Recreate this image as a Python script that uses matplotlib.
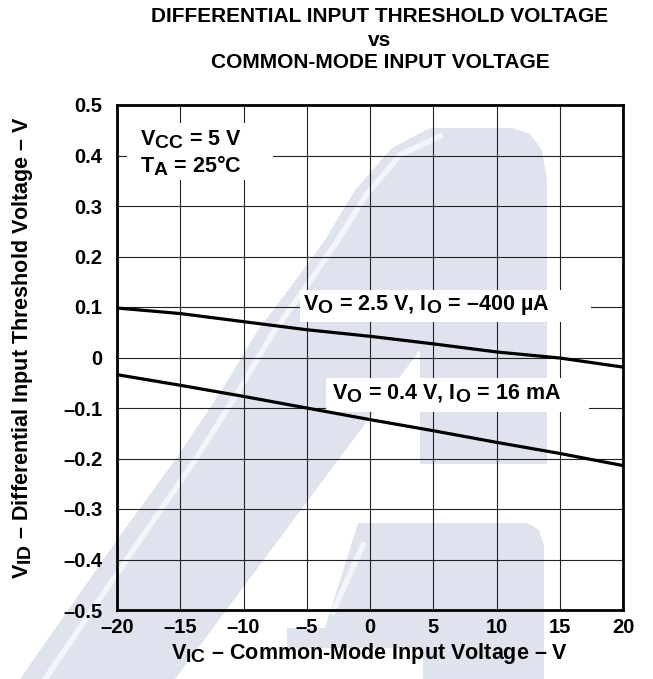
import matplotlib
matplotlib.use("Agg")
import matplotlib.pyplot as plt
import matplotlib._mathtext as mathtext_mod
from matplotlib.patches import Polygon, Rectangle

plt.rcParams['font.family'] = 'Liberation Sans'
plt.rcParams['font.weight'] = 'bold'
plt.rcParams['mathtext.fontset'] = 'custom'
plt.rcParams['mathtext.rm'] = 'Liberation Sans:bold'
plt.rcParams['mathtext.it'] = 'Liberation Sans:bold'
plt.rcParams['mathtext.bf'] = 'Liberation Sans:bold'
# subscripts in the datasheet are almost full size
mathtext_mod.SHRINK_FACTOR = 0.9

# common-mode input voltage (V)
v_ic = [-20, -15, -10, -5, 0, 5, 10, 15, 20]
# differential input threshold voltage (V)
vid_high = [0.098, 0.087, 0.071, 0.055, 0.042, 0.027, 0.011, -0.001, -0.019]
vid_low = [-0.034, -0.055, -0.077, -0.100, -0.123, -0.145, -0.168, -0.190, -0.214]

x_ticks = [-20, -15, -10, -5, 0, 5, 10, 15, 20]
y_ticks = [-0.5, -0.4, -0.3, -0.2, -0.1, 0, 0.1, 0.2, 0.3, 0.4, 0.5]

FS = 14.5
LFS = 15.5
W, H = 653, 679
fig = plt.figure(figsize=(W / 100, H / 100), dpi=100)
ax = fig.add_axes([117 / W, 1 - 610 / H, 506 / W, 505 / H])
ax.patch.set_alpha(0)

# faint logo watermark behind the chart (figure pixel coords)
wm = '#dee3ee'
def px(pts):
    return [(x / W, 1 - y / H) for x, y in pts]

logo_a = [(20, 679), (117, 540), (175, 460), (222, 390), (258, 330), (292, 285),
          (325, 240), (355, 190), (392, 148), (430, 128), (512, 128), (530, 134),
          (542, 150), (547, 180), (547, 464), (420, 464), (420, 350), (175, 679)]
logo_b = [(358, 523), (527, 523), (539, 530), (544, 545), (544, 679), (423, 679),
          (423, 648), (287, 648), (287, 628), (325, 628)]
fig.patches.append(Polygon(px(logo_a), closed=True, transform=fig.transFigure,
                           facecolor=wm, edgecolor='none', zorder=-5))
fig.patches.append(Polygon(px(logo_b), closed=True, transform=fig.transFigure,
                           facecolor=wm, edgecolor='none', zorder=-5))
stripe = [(45, 679), (140, 540), (195, 460), (238, 392), (273, 333), (306, 287),
          (336, 243), (366, 195), (400, 155), (440, 136)]
sx, sy = zip(*px(stripe))
fig.add_artist(plt.Line2D(sx, sy, transform=fig.transFigure, color='#f3f5f9',
                          lw=4, zorder=-4))
bx, by = zip(*px([(363, 545), (333, 612)]))
fig.add_artist(plt.Line2D(bx, by, transform=fig.transFigure, color='#f3f5f9',
                          lw=4, zorder=-4))

ax.plot(v_ic, vid_high, color='black', lw=2.3, zorder=3)
ax.plot(v_ic, vid_low, color='black', lw=2.3, zorder=3)

ax.set_xlim(-20, 20)
ax.set_ylim(-0.5, 0.5)
ax.set_xticks(x_ticks)
ax.set_yticks(y_ticks)
ax.set_xticklabels([str(t).replace('-', '\u2013') for t in x_ticks])
ax.set_yticklabels([('0' if t == 0 else f'{t:.1f}').replace('-', '\u2013') for t in y_ticks])
ax.tick_params(length=0, labelsize=FS)
ax.tick_params(axis='x', pad=6)
ax.tick_params(axis='y', pad=10.5)
for lab in ax.get_xticklabels() + ax.get_yticklabels():
    lab.set_fontweight('bold')
ax.grid(True, color='#222222', lw=0.8)
for s in ax.spines.values():
    s.set_linewidth(2)

ax.set_xlabel('V$_{\\mathregular{IC}}$ \u2013 Common-Mode Input Voltage \u2013 V',
              fontsize=LFS, fontweight='bold')
ax.set_ylabel('V$_{\\mathregular{ID}}$ \u2013 Differential Input Threshold Voltage \u2013 V',
              fontsize=LFS, fontweight='bold')
ax.xaxis.set_label_coords(0.5, -0.061)
ax.yaxis.set_label_coords(-0.162, 0.52)

# white label backgrounds that break the grid
for x0, x1, y0, y1 in [(-19.2, -7.7, 0.351, 0.464), (-5.5, 17.5, 0.070, 0.134),
                       (-3.5, 17.3, -0.108, -0.041)]:
    ax.add_patch(Rectangle((x0, y0), x1 - x0, y1 - y0, facecolor='white',
                           edgecolor='none', zorder=2.5))

ax.text(-18.2, 0.405, 'V$_{\\mathregular{CC}}$ = 5 V\nT$_{\\mathregular{A}}$ = 25\u00b0C',
        fontsize=LFS, fontweight='bold', ha='left', va='center', zorder=4,
        linespacing=1.15)
ax.text(-5.3, 0.104, 'V$_{\\mathregular{O}}$ = 2.5 V, I$_{\\mathregular{O}}$ = \u2013400 \u00b5A',
        fontsize=LFS, fontweight='bold', ha='left', va='center', zorder=4)
ax.text(-3.0, -0.072, 'V$_{\\mathregular{O}}$ = 0.4 V, I$_{\\mathregular{O}}$ = 16 mA',
        fontsize=LFS, fontweight='bold', ha='left', va='center', zorder=4)

fig.text(380 / W, 1 - 17 / H, 'DIFFERENTIAL INPUT THRESHOLD VOLTAGE', ha='center',
         va='center', fontsize=15, fontweight='bold')
fig.text(380 / W, 1 - 40 / H, 'vs', ha='center', va='center', fontsize=15,
         fontweight='bold')
fig.text(380 / W, 1 - 63 / H, 'COMMON-MODE INPUT VOLTAGE', ha='center',
         va='center', fontsize=15, fontweight='bold')

fig.savefig('out.png', dpi=100)
